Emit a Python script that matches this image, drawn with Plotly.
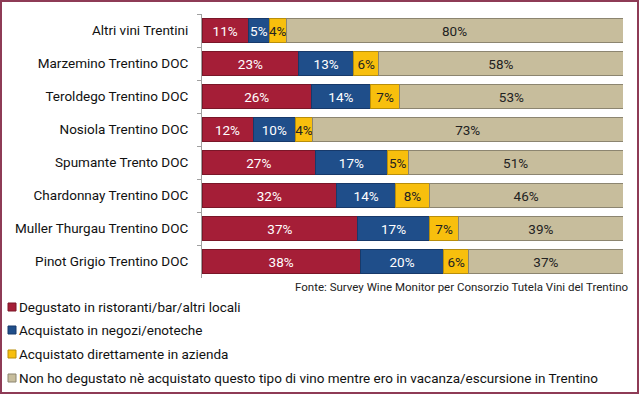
import plotly.graph_objects as go

categories = ["Altri vini Trentini", "Marzemino Trentino DOC", "Teroldego Trentino DOC",
              "Nosiola Trentino DOC", "Spumante Trento DOC", "Chardonnay Trentino DOC",
              "Muller Thurgau Trentino DOC", "Pinot Grigio Trentino DOC"]
series_names = ["Degustato in ristoranti/bar/altri locali",
                "Acquistato in negozi/enoteche",
                "Acquistato direttamente in azienda",
                "Non ho degustato nè acquistato questo tipo di vino mentre ero in vacanza/escursione in Trentino"]
degustato = [11, 23, 26, 12, 27, 32, 37, 38]
negozi = [5, 13, 14, 10, 17, 14, 17, 20]
azienda = [4, 6, 7, 4, 5, 8, 7, 6]
non_ho = [80, 58, 53, 73, 51, 46, 39, 37]
source = "Fonte: Survey Wine Monitor per Consorzio Tutela Vini del Trentino"

series = [degustato, negozi, azienda, non_ho]
colors = ["#A51E37", "#1F4E8A", "#F8BF0D", "#C7BD9C"]
edges = ["#7A1628", "#17396A", "#B88E0A", "#8C8570"]
textcolors = ["white", "white", "#222222", "#222222"]

W, H = 640, 394
L, R, T, B = 202, 17, 14, 116
pw, ph = W - L - R, H - T - B


def px_x(x):
    return (x - L) / pw


def px_y(y):
    return (H - B - y) / ph


fig = go.Figure()
for i, (name, vals) in enumerate(zip(series_names, series)):
    fig.add_trace(go.Bar(
        y=categories, x=vals, name=name, orientation="h",
        marker=dict(color=colors[i], line=dict(color=edges[i], width=1)),
        text=[f"{v}%" for v in vals], textposition="inside", textangle=0,
        insidetextanchor="middle",
        textfont=dict(color=textcolors[i], size=13.5, family="Roboto"),
        hoverinfo="skip", showlegend=False,
    ))

fig.update_layout(
    width=W, height=H, barmode="stack", barnorm="percent", bargap=0.27,
    margin=dict(l=L, r=R, t=T, b=B, autoexpand=False),
    paper_bgcolor="white", plot_bgcolor="white",
    font=dict(family="Roboto", size=13, color="#111111"),
    uniformtext=dict(minsize=13.5, mode="show"),
    xaxis=dict(range=[0, 100], showticklabels=False, showgrid=False, zeroline=False, showline=False),
    yaxis=dict(autorange="reversed", showline=True, linecolor="#A0A0A0", linewidth=1,
               ticks="outside", tickson="boundaries", ticklen=4, tickcolor="#A0A0A0",
               ticklabelstandoff=10, showgrid=False, tickfont=dict(size=13.5)),
    showlegend=False,
)

# legend drawn as squares + text
legend_rows = [307, 330, 354, 378]
for i, name in enumerate(series_names):
    yc = legend_rows[i]
    fig.add_shape(type="rect", xref="paper", yref="paper",
                  x0=px_x(8), x1=px_x(16), y0=px_y(yc + 4), y1=px_y(yc - 4),
                  line=dict(color=edges[i], width=1), fillcolor=colors[i])
    fig.add_annotation(text=name, xref="paper", yref="paper",
                       x=px_x(17), y=px_y(yc), xanchor="left", yanchor="middle",
                       showarrow=False, font=dict(size=13.5, color="#111111"))

fig.add_annotation(text=source, xref="paper", yref="paper",
                   x=px_x(631), y=px_y(287), xanchor="right", yanchor="middle",
                   showarrow=False, font=dict(size=11.5, color="#222222"))
fig.add_shape(type="rect", xref="paper", yref="paper",
              x0=px_x(1), x1=px_x(638), y0=px_y(393), y1=px_y(1),
              line=dict(color="#8E3B56", width=2), fillcolor="rgba(0,0,0,0)", layer="above")

fig.write_html("out.html", config={"displayModeBar": False},
               post_script="document.body.style.margin='0';document.body.style.overflow='hidden';")
